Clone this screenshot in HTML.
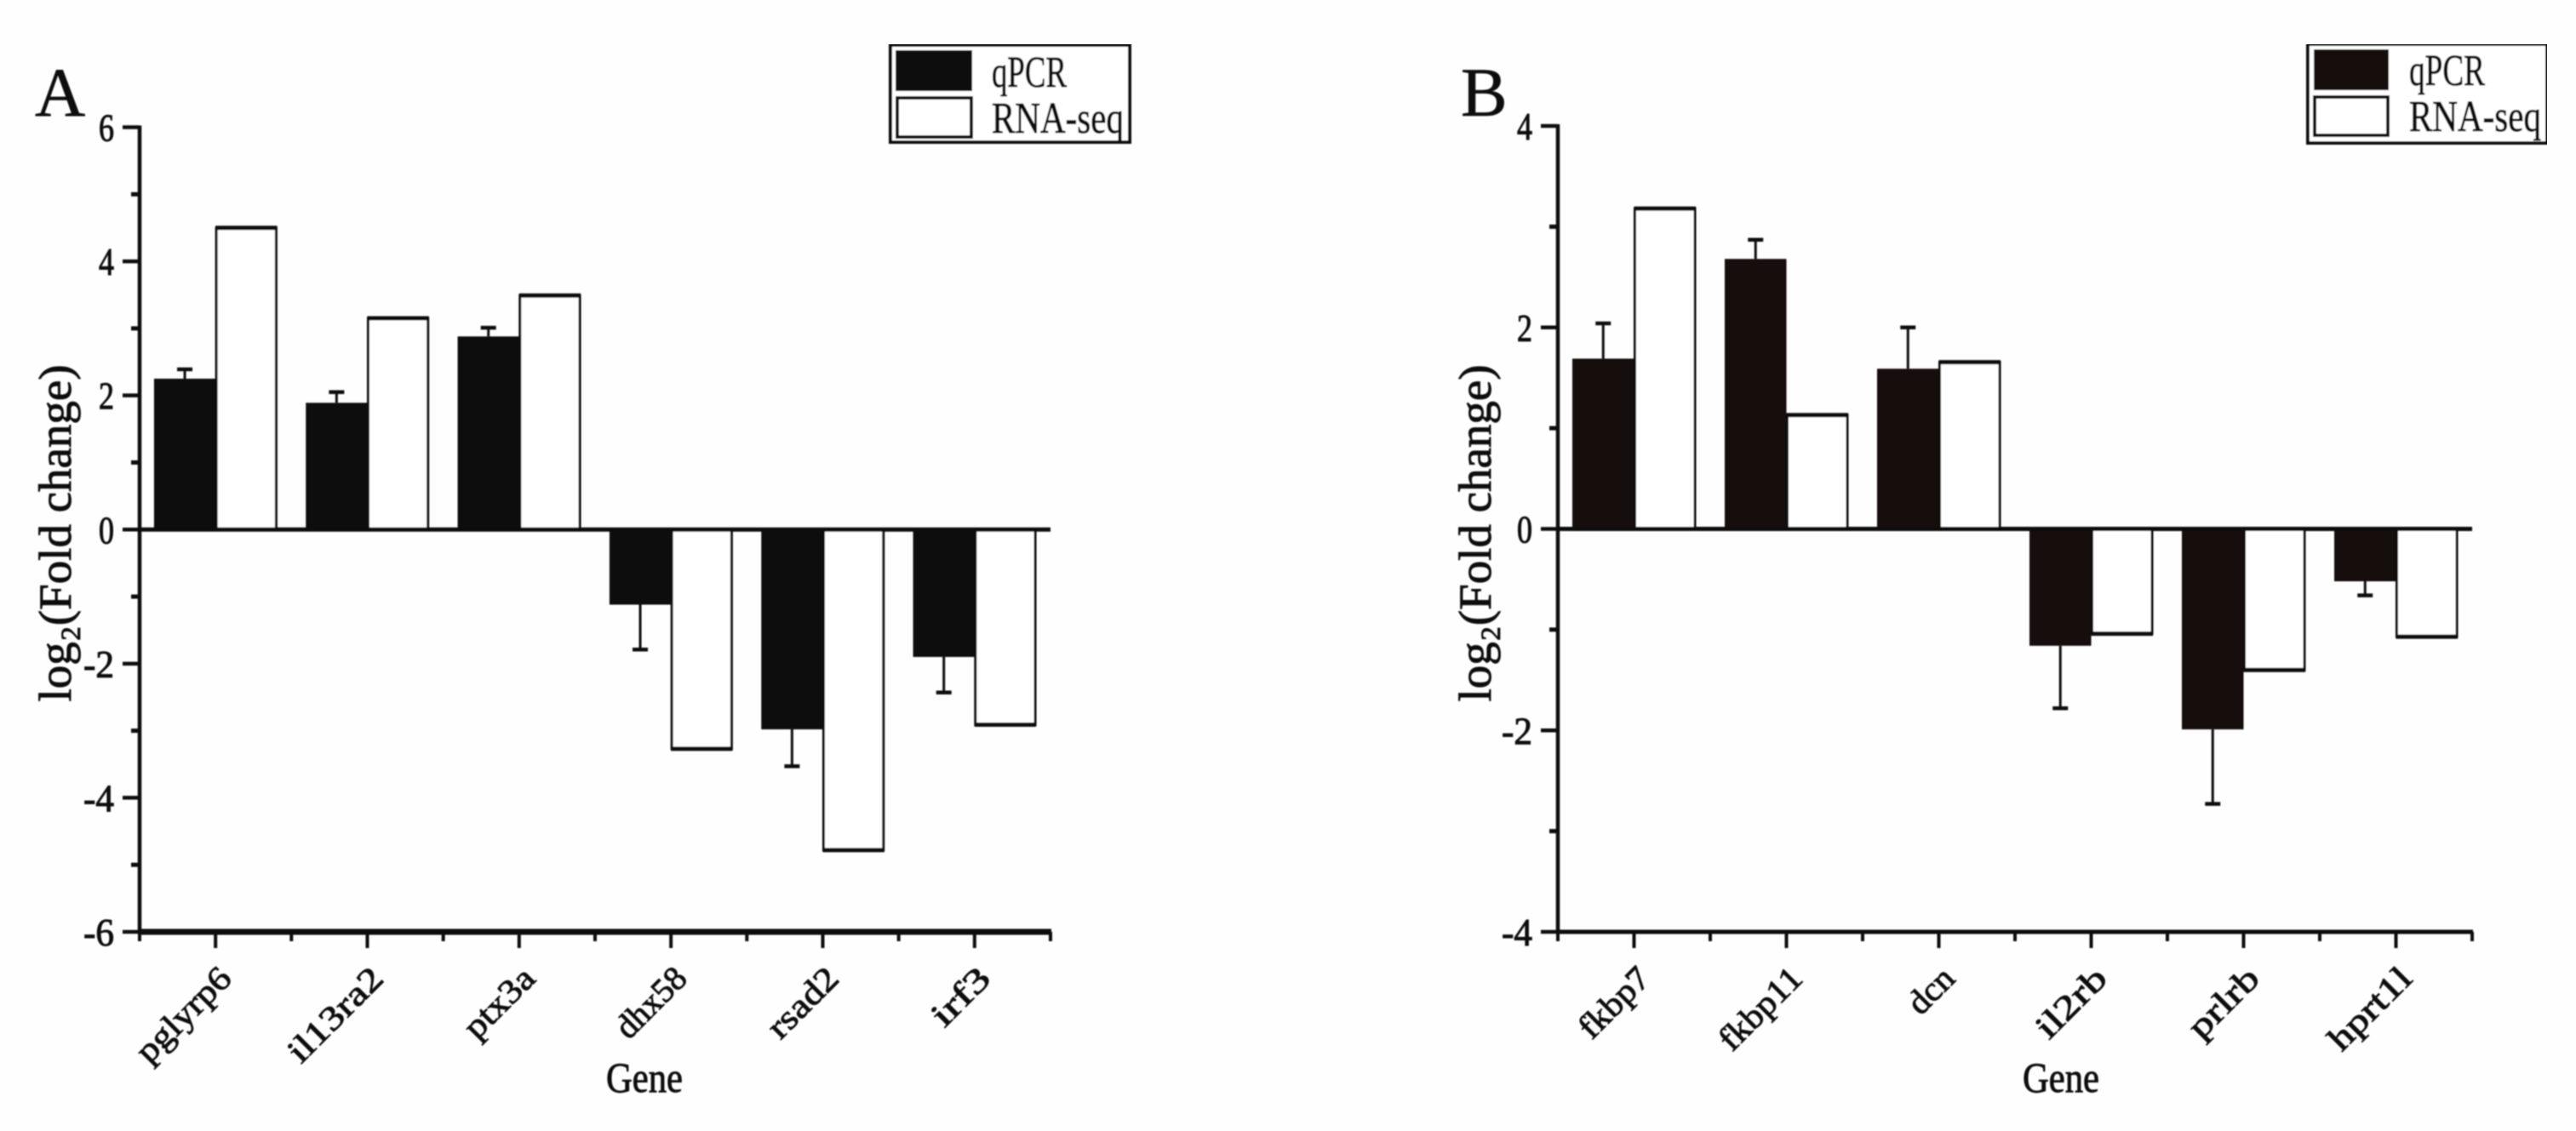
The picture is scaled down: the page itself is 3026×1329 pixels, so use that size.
<!DOCTYPE html>
<html>
<head>
<meta charset="utf-8">
<title>qPCR vs RNA-seq fold change</title>
<style>
html,body{margin:0;padding:0;background:#fefefe;}
svg{display:block;}
.tick{font-family:"Liberation Serif",serif;font-size:45px;fill:#0a0a0a;stroke:#0a0a0a;stroke-width:1px;text-anchor:end;}
.gene{font-family:"Liberation Serif",serif;font-size:40px;fill:#0a0a0a;stroke:#0a0a0a;stroke-width:.9px;text-anchor:end;}
.ylab{font-family:"Liberation Serif",serif;font-size:54px;fill:#0a0a0a;stroke:#0a0a0a;stroke-width:.9px;text-anchor:middle;}
.title{font-family:"Liberation Serif",serif;font-size:50px;fill:#0a0a0a;stroke:#0a0a0a;stroke-width:.9px;}
.leg{font-family:"Liberation Serif",serif;font-size:52px;fill:#0a0a0a;stroke:#0a0a0a;stroke-width:.9px;}
.panel{font-family:"Liberation Serif",serif;font-size:82px;fill:#0a0a0a;stroke:#0a0a0a;stroke-width:.6px;}
</style>
</head>
<body>
<svg id="chart" xmlns="http://www.w3.org/2000/svg" width="3026" height="1329" viewBox="0 0 3026 1329">
  <defs><filter id="soft" x="0" y="0" width="100%" height="100%"><feGaussianBlur stdDeviation="0.8"/></filter></defs>
  <rect width="3026" height="1329" fill="#fefefe"/>
  <g id="root" filter="url(#soft)">
    <text class="panel" x="41" y="136">A</text>
    <text class="panel" x="1716" y="136">B</text>

    <g>
      <rect x="1046" y="53" width="281" height="114" fill="#fff" stroke="#111" stroke-width="4"/>
      <rect x="1052" y="59" width="90" height="48" fill="#0a0808"/>
      <rect x="1054" y="115" width="87" height="46" fill="#fff" stroke="#111" stroke-width="4"/>
      <text class="leg" x="1165" y="102" textLength="88" lengthAdjust="spacingAndGlyphs">qPCR</text>
      <text class="leg" x="1165" y="156" textLength="155" lengthAdjust="spacingAndGlyphs">RNA-seq</text>
    </g>
    <g>
      <rect x="2711" y="52" width="281" height="116" fill="#fff" stroke="#111" stroke-width="4"/>
      <rect x="2718" y="58" width="88" height="48" fill="#150d0f"/>
      <rect x="2719" y="114" width="86" height="45" fill="#fff" stroke="#111" stroke-width="4"/>
      <text class="leg" x="2830" y="100" textLength="89" lengthAdjust="spacingAndGlyphs">qPCR</text>
      <text class="leg" x="2830" y="154" textLength="155" lengthAdjust="spacingAndGlyphs">RNA-seq</text>
    </g>
  </g>
</svg>
<script>
// Panel A data
const categoriesA = ["pglyrp6", "il13ra2", "ptx3a", "dhx58", "rsad2", "irf3"];
const qpcrA = [2.25, 1.89, 2.88, -1.12, -2.98, -1.90];
const rnaseqA = [4.50, 3.15, 3.49, -3.27, -4.78, -2.91];
const errorA = [0.14, 0.16, 0.13, 0.67, 0.55, 0.53];
const yTicksA = [6, 4, 2, 0, -2, -4, -6];
const yMinorA = [5, 3, 1, -1, -3, -5];

// Panel B data
const categoriesB = ["fkbp7", "fkbp11", "dcn", "il2rb", "prlrb", "hprt1l"];
const qpcrB = [1.69, 2.68, 1.59, -1.16, -1.99, -0.52];
const rnaseqB = [3.18, 1.13, 1.655, -1.04, -1.40, -1.07];
const errorB = [0.35, 0.19, 0.41, 0.62, 0.74, 0.14];
const yTicksB = [4, 2, 0, -2, -4];
const yMinorB = [3, 1, -1, -3];

const root = document.getElementById('root');
const NS = 'http://www.w3.org/2000/svg';

function el(parent, tag, props, text) {
  const node = document.createElementNS(NS, tag);
  for (const k in props) node.setAttribute(k, props[k]);
  if (text !== undefined) node.textContent = text;
  parent.appendChild(node);
  return node;
}

function drawPanel(id, frame, categories, qpcr, rnaseq, errors, yTicks, yMinor) {
  const yMax = yTicks[0];
  const yMin = yTicks[yTicks.length - 1];
  const yScale = v => frame.top + (yMax - v) / (yMax - yMin) * (frame.bottom - frame.top);
  const step = (frame.right - frame.left) / categories.length;
  const xScale = i => frame.left + step * (i + 0.5);
  const barW = step * 0.405;
  const zero = yScale(0);

  const g = el(root, 'g', {});
  
  

  categories.forEach((cat, i) => {
    const cx = xScale(i);
    const yq = yScale(qpcr[i]);
    const yr = yScale(rnaseq[i]);
    const dir = qpcr[i] >= 0 ? 1 : -1;

    // error bar (drawn first, whisker away from zero)
    const ex = cx - barW / 2;
    const ye = yScale(qpcr[i] + dir * errors[i]);
    const whisker = el(g, 'line', {x1: ex, x2: ex, y1: yq, y2: ye, stroke: '#111', 'stroke-width': 3});
    
    
    const cap = el(g, 'line', {x1: ex - 9, x2: ex + 9, y1: ye, y2: ye, stroke: '#111', 'stroke-width': 4.5});
    
    

    // qPCR bar
    const q = el(g, 'rect', {x: cx - barW, y: Math.min(yq, zero), width: barW, height: Math.abs(zero - yq), fill: frame.dark});
    
    

    // RNA-seq bar
    const r = el(g, 'rect', {x: cx + 1, y: Math.min(yr, zero), width: barW - 2, height: Math.abs(zero - yr), fill: '#fff', stroke: '#111', 'stroke-width': 3});
    
    
    const rcap = el(g, 'line', {x1: cx, x2: cx + barW, y1: yr, y2: yr, stroke: '#111', 'stroke-width': 5});
    
    

    // major x tick and gene label
    const tick = el(g, 'line', {x1: cx, x2: cx, y1: frame.bottom, y2: frame.bottom + 19, stroke: '#111', 'stroke-width': 4});
    
    
    const lx = cx + 21;
    const ly = frame.bottom + 57;
    const label = el(g, 'text', {class: 'gene', x: lx, y: ly, transform: 'rotate(-45 ' + lx + ' ' + ly + ')', textLength: cat.length * 20, lengthAdjust: 'spacingAndGlyphs'}, cat);
    
    
  });

  // minor x ticks at category boundaries
  for (let i = 0; i <= categories.length; i++) {
    const mx = frame.left + step * i;
    const m = el(g, 'line', {x1: mx, x2: mx, y1: frame.bottom, y2: frame.bottom + 11, stroke: '#111', 'stroke-width': 4});
    
    
  }

  // y axis and ticks
  const yAxis = el(g, 'line', {x1: frame.left, x2: frame.left, y1: frame.top - 2, y2: frame.bottom + 2, stroke: '#0a0a0a', 'stroke-width': 4.5});
  
  

  yTicks.forEach(v => {
    const y = yScale(v);
    const t = el(g, 'line', {x1: frame.left - 20, x2: frame.left, y1: y, y2: y, stroke: '#111', 'stroke-width': 4.5});
    
    
    const s = String(v);
    const tl = el(g, 'text', {class: 'tick', x: frame.left - 30, y: y + 16, textLength: s.length * 18, lengthAdjust: 'spacingAndGlyphs'}, s);
    
    
  });
  yMinor.forEach(v => {
    const y = yScale(v);
    const t = el(g, 'line', {x1: frame.left - 10, x2: frame.left, y1: y, y2: y, stroke: '#111', 'stroke-width': 5});
    
    
  });

  // zero line and bottom axis
  const zl = el(g, 'line', {x1: frame.left, x2: frame.right, y1: zero, y2: zero, stroke: '#111', 'stroke-width': 5});
  
  
  const xa = el(g, 'line', {x1: frame.left - 2, x2: frame.right + 1, y1: frame.bottom, y2: frame.bottom, stroke: '#0a0a0a', 'stroke-width': frame.axisW});
  
  

  // axis titles
  const cy = 626.5;
  const yl = el(g, 'text', {class: 'ylab', x: frame.ylabX, y: cy, transform: 'rotate(-90 ' + frame.ylabX + ' ' + cy + ')', textLength: 396, lengthAdjust: 'spacingAndGlyphs'}, 'log\u2082(Fold change)');
  
  
  const xt = el(g, 'text', {class: 'title', x: frame.geneX, y: 1283, textLength: 90, lengthAdjust: 'spacingAndGlyphs'}, 'Gene');
  
  
}

drawPanel('a', {left: 164, right: 1234, top: 149.5, bottom: 1095, dark: '#0a0808', ylabX: 83, geneX: 712, axisW: 7},
  categoriesA, qpcrA, rnaseqA, errorA, yTicksA, yMinorA);
drawPanel('b', {left: 1830, right: 2904, top: 148, bottom: 1095, dark: '#150d0f', ylabX: 1751, geneX: 2376, axisW: 5},
  categoriesB, qpcrB, rnaseqB, errorB, yTicksB, yMinorB);
</script>
</body>
</html>
